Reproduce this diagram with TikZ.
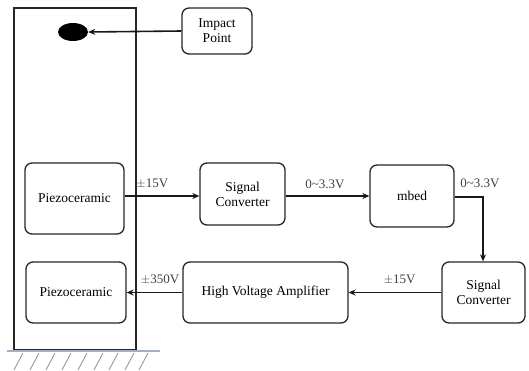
\documentclass[tikz,border=0pt]{standalone}
\usepackage{fontspec}
\setmainfont{Liberation Serif}
\usetikzlibrary{arrows.meta,shapes.geometric}
\definecolor{groundc}{RGB}{165,175,195}
\definecolor{hatchc}{RGB}{150,150,160}
\tikzset{
  blk/.style={draw=black!85, line width=1.3pt, rounded corners=7pt, align=center, font=\fontsize{13.5}{15}\selectfont, inner sep=0pt},
  conn/.style={draw=black!90, line width=1.6pt, -{Stealth[length=7pt,width=6pt]}},
  lbl/.style={font=\fontsize{13}{14}\selectfont, text=black!75, inner sep=0pt},
}
\begin{document}
\begin{tikzpicture}[x=1pt,y=-1pt]
\useasboundingbox (0,0) rectangle (529,370);
% beam
\draw[black!85, line width=1.3pt] (14,8) rectangle (136,350);
% ground
\draw[groundc, line width=1.3pt] (7,351) -- (160,351);
\foreach \x in {23,39,55,71,87,103,118,134,148}
  \draw[hatchc, line width=0.9pt] (\x,353) -- (\x-9,370);
% impact mark
\node[draw=none, fill=black, ellipse, minimum width=30pt, minimum height=18pt, inner sep=0pt] (imp) at (73,32) {};
% boxes
\node[blk, minimum width=70pt, minimum height=46pt] (ip) at (217,31) {Impact\\Point};
\node[blk, minimum width=99pt, minimum height=71pt] (pz1) at (74.5,198.5) {Piezoceramic};
\node[blk, minimum width=85pt, minimum height=62pt] (sc1) at (242.5,194) {Signal\\Converter};
\node[blk, minimum width=84pt, minimum height=62pt] (mb) at (412,196) {mbed};
\node[blk, minimum width=83pt, minimum height=61pt] (sc2) at (483.5,292.5) {Signal\\Converter};
\node[blk, minimum width=165pt, minimum height=61pt] (hva) at (265.5,292.5) {High Voltage Amplifier};
\node[blk, minimum width=100pt, minimum height=61pt] (pz2) at (76,292.5) {Piezoceramic};
% connectors
\draw[conn] (ip.west) -- (imp.east);
\draw[conn] (pz1.east |- 0,196) -- (sc1.west |- 0,196) node[lbl, pos=0.37, above=7pt] {$\pm$15V};
\draw[conn] (sc1.east |- 0,196) -- (mb.west |- 0,196) node[lbl, pos=0.47, above=7pt] {0\textasciitilde3.3V};
\coordinate (bend) at (483,197);
\draw[conn] (mb.east |- bend) -- (bend) -- (sc2.north -| bend);
\node[lbl] (lb) at (480,183) {0\textasciitilde3.3V};
\draw[conn] (sc2.west) -- (hva.east) node[lbl, pos=0.45, above=7pt] {$\pm$15V};
\draw[conn] (hva.west) -- (pz2.east) node[lbl, pos=0.4, above=7pt] {$\pm$350V};
\end{tikzpicture}
\end{document}
